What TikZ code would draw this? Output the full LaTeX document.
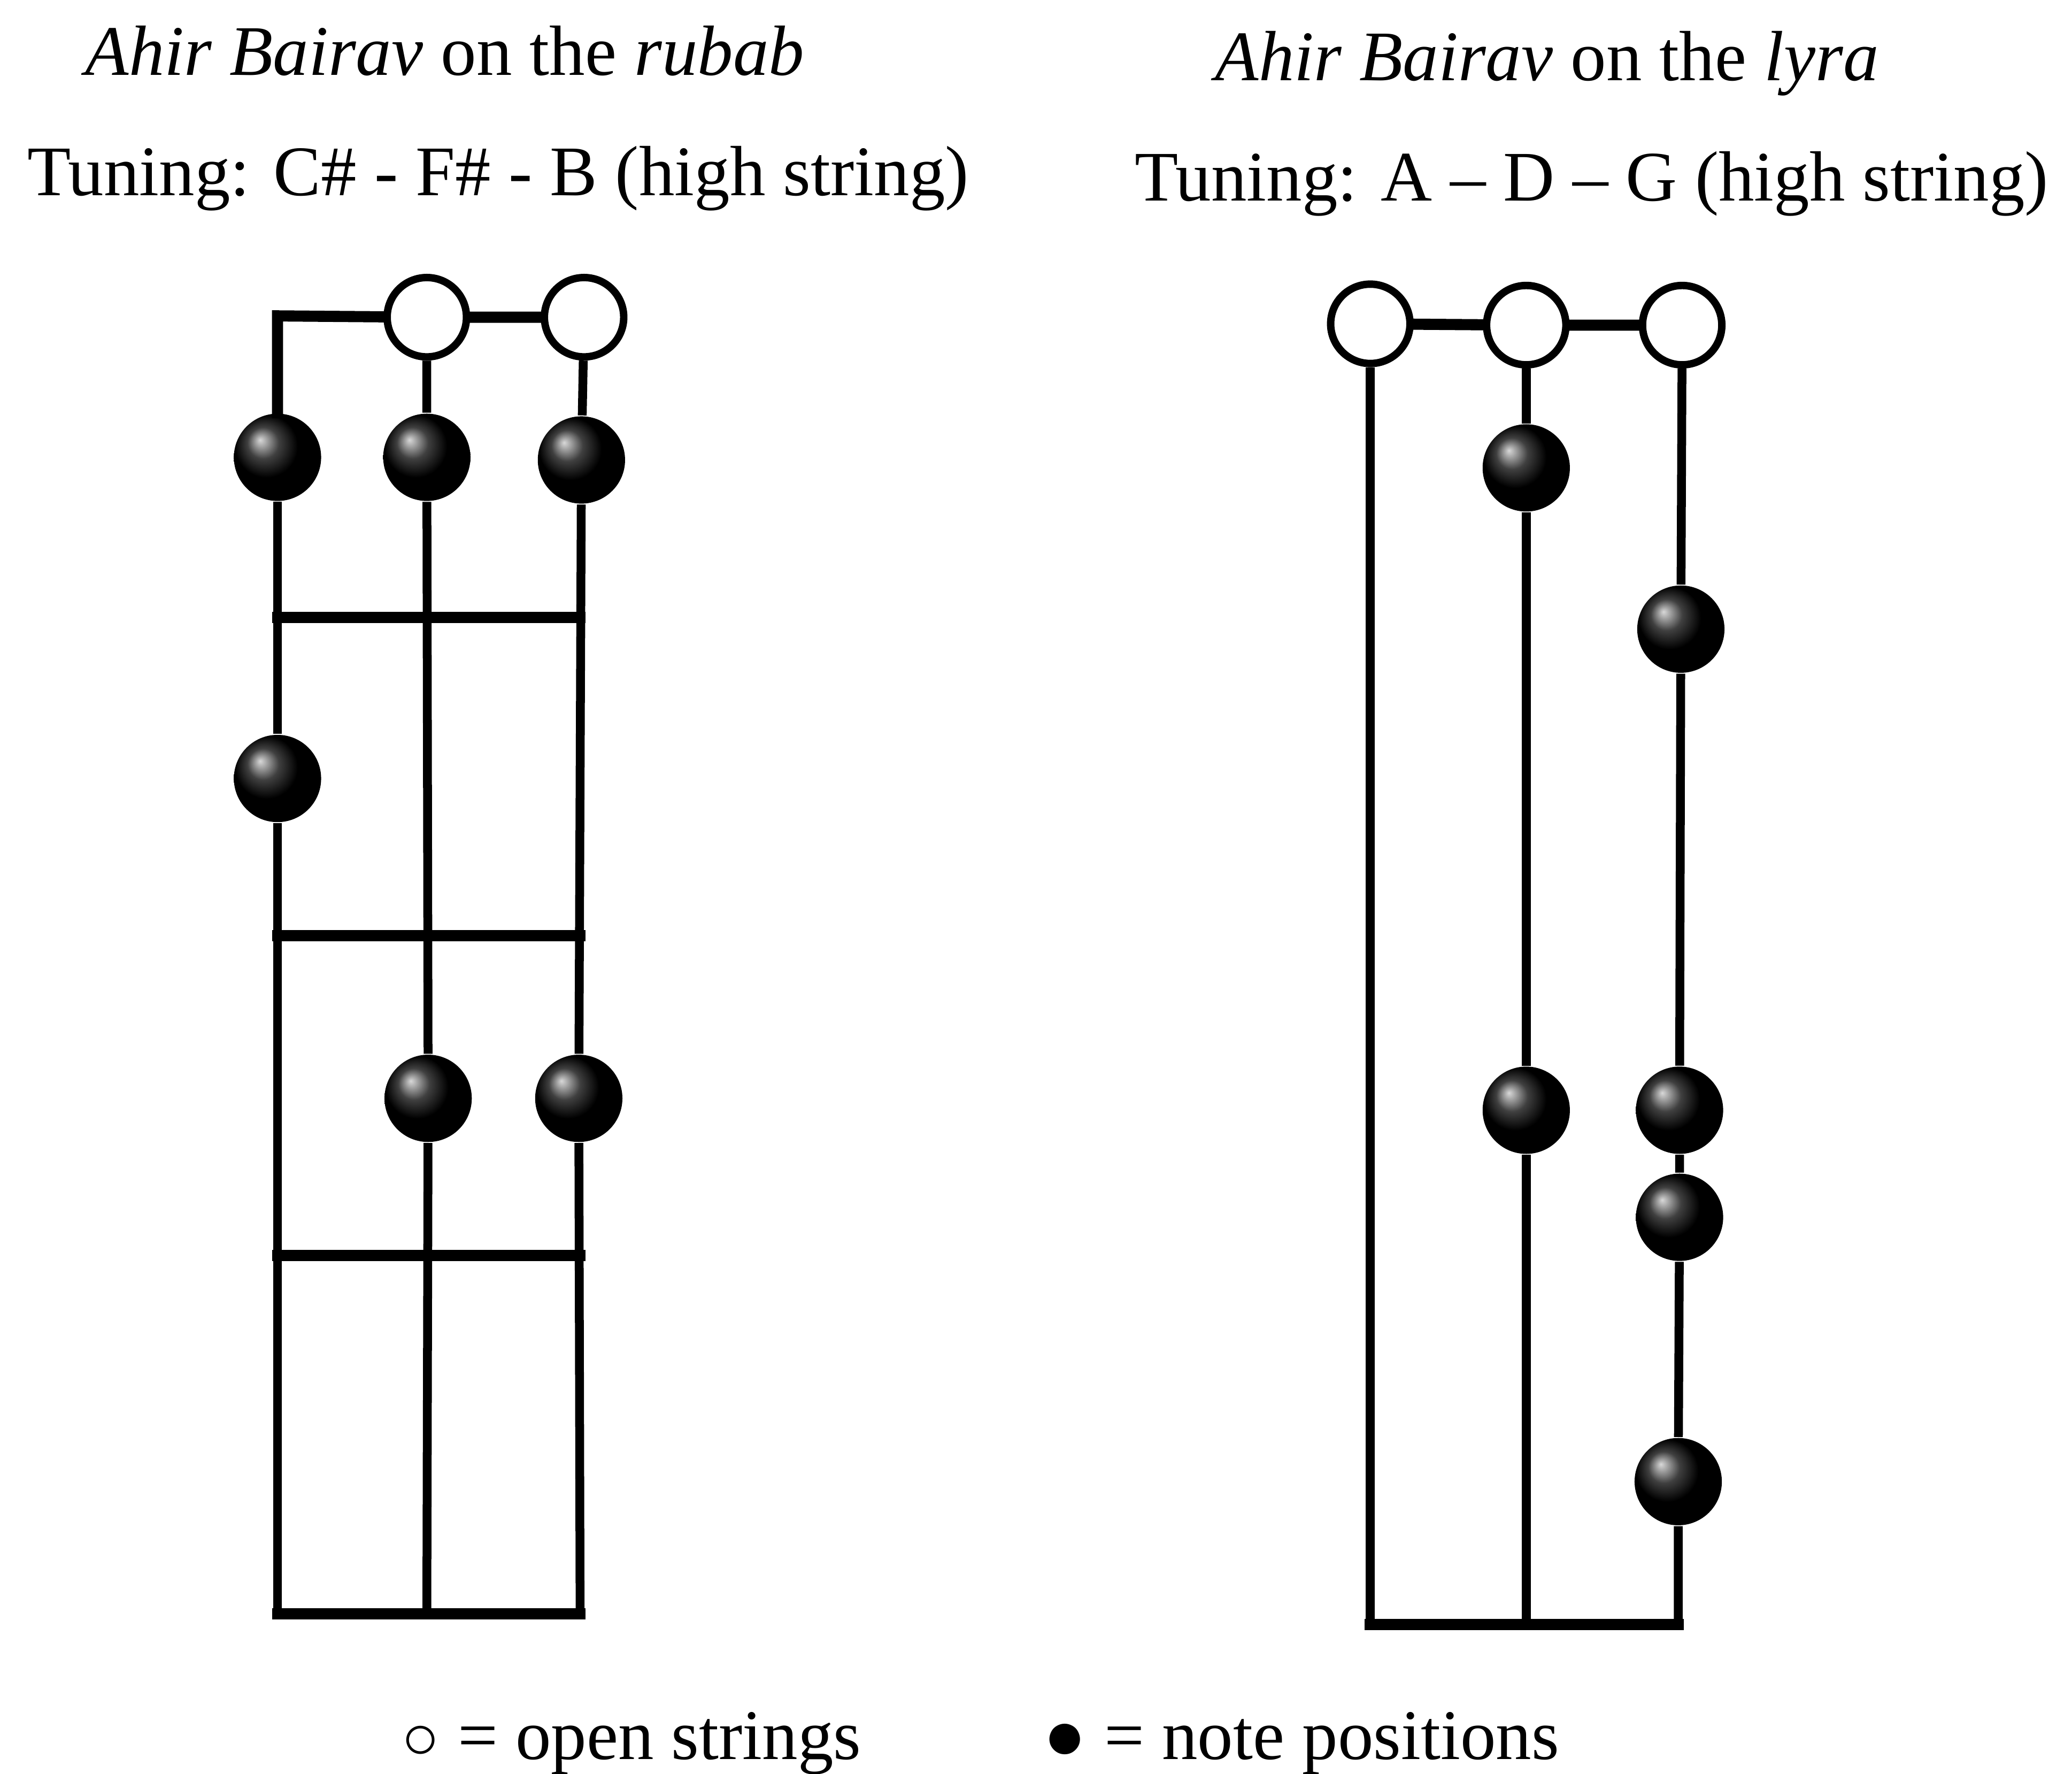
\documentclass[tikz,border=0pt]{standalone}
\usepackage{fontspec}
\setmainfont{Liberation Serif}
\tikzset{%
  % Specifications for style of nodes:
      openstring/.style = {circle, draw=black, line width=1.6pt, fill=white,
                           minimum size=0.6cm, inner sep=0pt},
         notedot/.style = {circle, shade, ball color=black, minimum size=0.66cm,
                           inner sep=0pt},
         heading/.style = {anchor=base west, inner sep=0pt,
                           font=\fontsize{15.3}{18}\selectfont},
         strline/.style = {line width=1.9pt},
        fretline/.style = {line width=2.4pt, line cap=rect},
}

\begin{document}
\begin{tikzpicture}[x=0.01cm, y=-0.01cm]
  \useasboundingbox (0,0) rectangle (1568,1342);
  % Titles
  \node (rtitle)   [heading] at (64,57)   {\textit{Ahir Bairav} on the \textit{rubab}};
  \node (rtuning)  [heading] at (20,148)  {Tuning: C\# - F\# - B (high string)};
  \node (ltitle)   [heading] at (919,61)  {\textit{Ahir Bairav} on the \textit{lyra}};
  \node (ltuning)  [heading] at (858,152) {Tuning: A -- D -- G (high string)};

  % Rubab: open strings, note positions, string ends
  \coordinate (rtop) at (210,239);
  \node (ro2)  [openstring] at (323,240) {};
  \node (ro3)  [openstring] at (442,240) {};
  \node (r11)  [notedot]    at (210,346) {};
  \node (r12)  [notedot]    at (323,346) {};
  \node (r13)  [notedot]    at (440,348) {};
  \node (r21)  [notedot]    at (210,589) {};
  \node (r32)  [notedot]    at (324,831) {};
  \node (r33)  [notedot]    at (438,831) {};
  \coordinate (rb1) at (210,1221);
  \coordinate (rb2) at (323,1221);
  \coordinate (rb3) at (439,1221);

  \draw[fretline] (r11) -- (rtop) -- (ro2) -- (ro3);
  \draw[strline]  (r11) -- (r21) -- (rb1);
  \draw[strline]  (ro2) -- (r12) -- (r32) -- (rb2);
  \draw[strline]  (ro3) -- (r13) -- (r33) -- (rb3);
  \foreach \y in {467,708,950}
    \draw[fretline] (210,\y) -- (439,\y);
  \draw[fretline] (rb1) -- (rb3);

  % Lyra: open strings, note positions, string ends
  \node (lo1)  [openstring] at (1037,245) {};
  \node (lo2)  [openstring] at (1155,246) {};
  \node (lo3)  [openstring] at (1273,246) {};
  \node (l12)  [notedot]    at (1155,354) {};
  \node (l13)  [notedot]    at (1272,476) {};
  \node (l22)  [notedot]    at (1155,840) {};
  \node (l23)  [notedot]    at (1271,840) {};
  \node (l33)  [notedot]    at (1271,921) {};
  \node (l43)  [notedot]    at (1270,1121) {};
  \coordinate (lb1) at (1037,1229);
  \coordinate (lb2) at (1155,1229);
  \coordinate (lb3) at (1270,1229);

  \draw[fretline] (lo1) -- (lo2) -- (lo3);
  \draw[strline]  (lo1) -- (lb1);
  \draw[strline]  (lo2) -- (l12) -- (l22) -- (lb2);
  \draw[strline]  (lo3) -- (l13) -- (l23) -- (l33) -- (l43) -- (lb3);
  \draw[fretline] (lb1) -- (lb3);

  % Legend
  \node (lgopen) [heading] at (303,1331) {\scalebox{0.9}{○} = open strings};
  \node (lgnote) [heading] at (789,1331) {\scalebox{1.0}{●} = note positions};
\end{tikzpicture}
\end{document}
